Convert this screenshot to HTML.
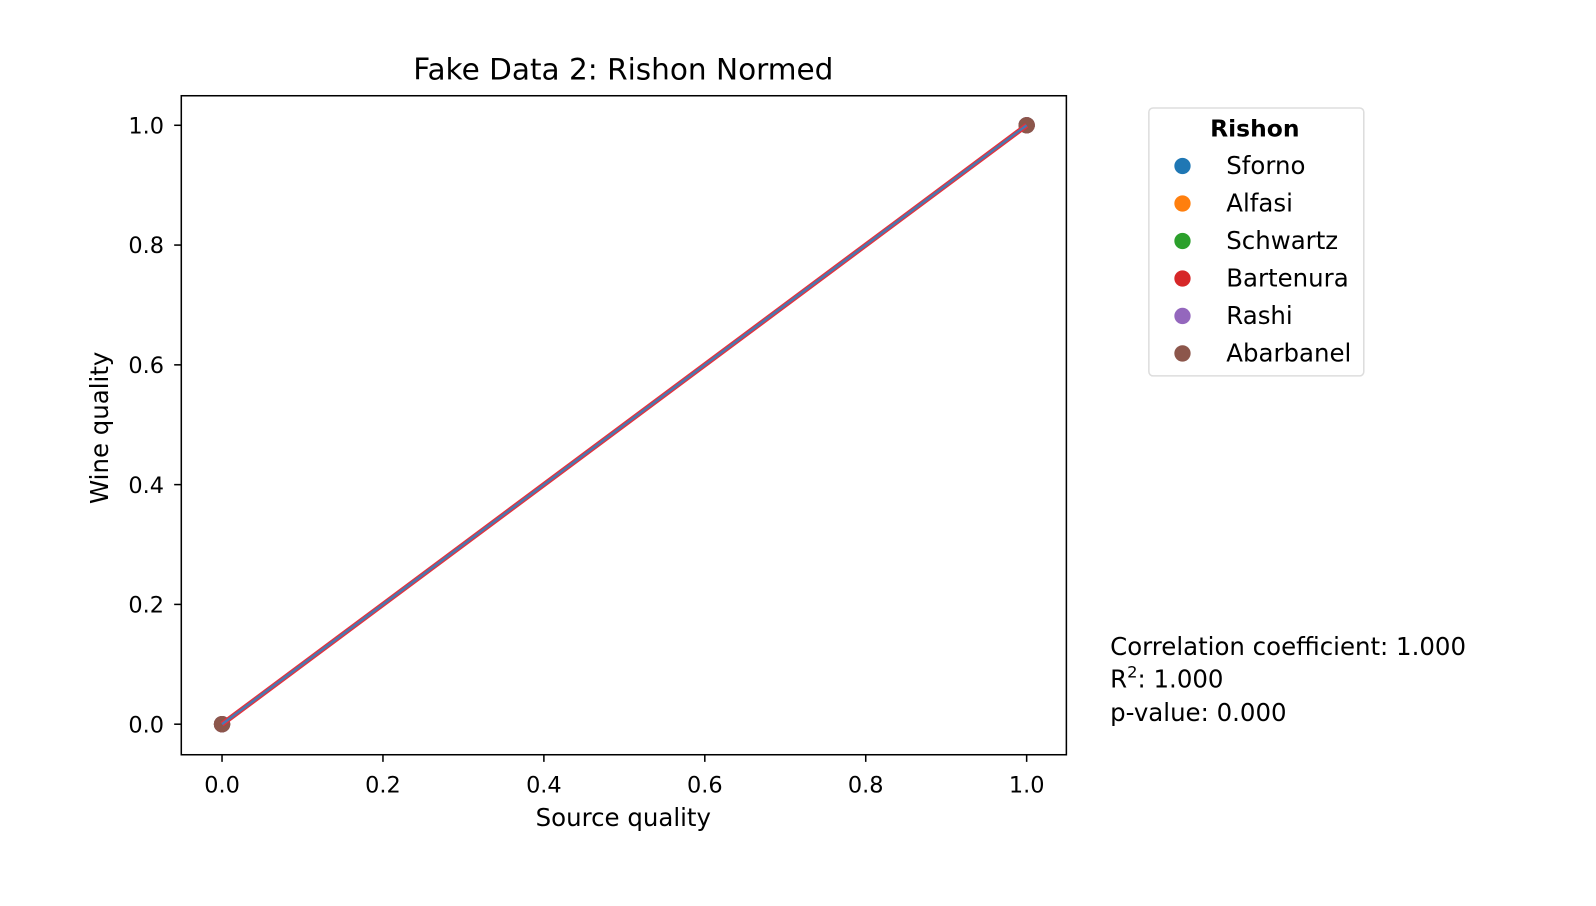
<!DOCTYPE html>
<html><head><meta charset="utf-8"><style>
body{margin:0;background:#fff;}
svg{display:block;font-family:"DejaVu Sans","Liberation Sans",sans-serif;}
</style></head><body>
<svg id="chart" width="1596" height="906" viewBox="0 0 1567 889.5" preserveAspectRatio="none">
<rect width="1567" height="890" fill="#fff"/>
<text x="612" y="78" font-size="29" text-anchor="middle" fill="#000">Fake Data 2: Rishon Normed</text>
<g id="plot"></g>
<rect x="178" y="94" width="869" height="647" fill="none" stroke="#000" stroke-width="1.5"/>
<text x="612" y="811" font-size="24" text-anchor="middle">Source quality</text>
<text transform="translate(106,420) rotate(-90)" font-size="24" text-anchor="middle">Wine quality</text>
<g>
<rect x="1128" y="106" width="211" height="263" rx="4" fill="#fff" stroke="#ddd" stroke-width="1.5"/>
<text x="1232" y="134" font-size="23" font-weight="bold" text-anchor="middle">Rishon</text>
<g id="legend-items"></g>
</g>
<g font-size="24">
<text x="1090" y="643">Correlation coefficient: 1.000</text>
<text x="1090" y="675">R<tspan dy="-10" font-size="16">2</tspan><tspan dy="10">: 1.000</tspan></text>
<text x="1090" y="708">p-value: 0.000</text>
</g>
</svg>
<script>
const xTicks=[0.0,0.2,0.4,0.6,0.8,1.0];
const yTicks=[0.0,0.2,0.4,0.6,0.8,1.0];
const seriesNames=["Sforno","Alfasi","Schwartz","Bartenura","Rashi","Abarbanel"];
const seriesColors=["#1f77b4","#ff7f0e","#2ca02c","#d62728","#9467bd","#8c564b"];
const xValues=[0,1];
const yValues=[0,1];
const fitX=[0,1];
const fitY=[0,1];
const NS="http://www.w3.org/2000/svg";
const X=v=>218+v*(1008-218);
const Y=v=>711-v*(711-123);
const plot=document.getElementById('plot');
function mk(tag,attrs,parent){const e=document.createElementNS(NS,tag);for(const k in attrs)e.setAttribute(k,attrs[k]);parent.appendChild(e);return e;}
xTicks.forEach(t=>{
 const l=mk('line',{x1:X(t),x2:X(t),y1:741,y2:748,stroke:'#000','stroke-width':1.5},plot);
 
 
 const tx=mk('text',{x:X(t),y:778,'font-size':22,'text-anchor':'middle'},plot);
 tx.textContent=t.toFixed(1);
 
 
});
yTicks.forEach(t=>{
 const l=mk('line',{x1:171,x2:178,y1:Y(t),y2:Y(t),stroke:'#000','stroke-width':1.5},plot);
 
 
 const tx=mk('text',{x:161,y:Y(t)+8,'font-size':22,'text-anchor':'end'},plot);
 tx.textContent=t.toFixed(1);
 
 
});
seriesNames.forEach((n,i)=>{
 xValues.forEach((xv,j)=>{
  const c=mk('circle',{cx:X(xv),cy:Y(yValues[j]),r:8,fill:seriesColors[i]},plot);
  
  
 });
});
const pts=fitX.map((v,i)=>X(v)+','+Y(fitY[i])).join(' ');
const f1=mk('polyline',{points:pts,fill:'none',stroke:'#e8303a','stroke-width':5},plot);


const f2=mk('polyline',{points:pts,fill:'none',stroke:'#4a78b0','stroke-width':2.5},plot);


const li=document.getElementById('legend-items');
seriesNames.forEach((n,i)=>{
 const y=163+i*36.8;
 const c=mk('circle',{cx:1161,cy:y,r:8,fill:seriesColors[i]},li);
 
 
 const t=mk('text',{x:1204,y:y+8,'font-size':24},li);
 t.textContent=n;
 
 
});
</script>
</body></html>
